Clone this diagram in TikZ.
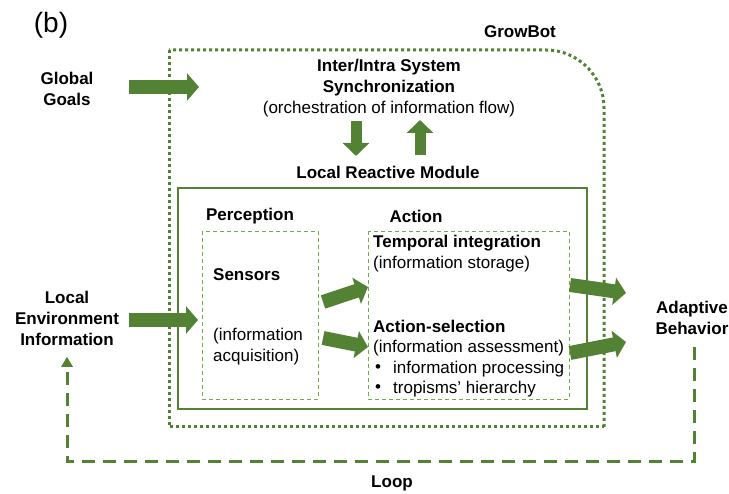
\documentclass[tikz,border=0pt]{standalone}
\usepackage{fontspec}
\setmainfont{Liberation Sans}
\usetikzlibrary{arrows.meta,calc}
\definecolor{dkgreen}{HTML}{548235}
\definecolor{ltgreen}{HTML}{70AD47}
\begin{document}
\begin{tikzpicture}[x=1pt,y=-1pt,
  txt/.style={inner sep=0pt, font=\fontsize{17}{21}\selectfont, align=center},
  btxt/.style={txt, font=\fontsize{17}{21}\selectfont\bfseries},
  blockarrow/.style={draw=dkgreen, line width=14pt, -{Triangle[width=27pt,length=12pt]}},
  vblockarrow/.style={draw=dkgreen, line width=11pt, -{Triangle[width=26pt,length=13pt]}},
  dotborder/.style={draw=dkgreen, line width=3pt, dash pattern=on 3pt off 3pt},
  dashbox/.style={draw=ltgreen, line width=0.9pt, dash pattern=on 4pt off 3pt},
  loopline/.style={draw=dkgreen, line width=3pt, dash pattern=on 13pt off 8pt},
]
\useasboundingbox (0,0) rectangle (729,494);

% outer GrowBot border
\draw[dotborder, rounded corners=58pt] (604,427) -- (604,50) -- (169,50);
\draw[dotborder] (169,50) -- (169,427) -- (604,427);

% inner module box and sub boxes
\draw[draw=dkgreen, line width=2pt] (178,188) rectangle (587,409);
\draw[dashbox] (202,231) rectangle (318,399);
\draw[dashbox] (368,231) rectangle (569,399);

% texts
\node[txt, font=\fontsize{28}{32}\selectfont] (lblb) at (51,25) {(b)};
\node[btxt] (growbot) at (520,32) {GrowBot};
\node[btxt] (goals) at (67,89) {Global\\Goals};
\node[txt] (sync) at (389,88) {\textbf{Inter/Intra System}\\\textbf{Synchronization}\\(orchestration of information flow)};
\node[btxt] (lrm) at (388,172) {Local Reactive Module};
\node[btxt] (perc) at (250,216) {Perception};
\node[btxt] (act) at (416,216) {Action};
\node[btxt, anchor=west] (sens) at (213,275) {Sensors};
\node[txt, anchor=west, align=left] (acq) at (213,347) {(information\\acquisition)};
\node[btxt, anchor=west] (temp) at (373,243) {Temporal integration};
\node[txt, anchor=west] (stor) at (373,264) {(information storage)};
\node[btxt, anchor=west] (asel) at (373,326) {Action-selection};
\node[txt, anchor=west] (asses) at (373,348) {(information assessment)};
\node[txt] (b1) at (378,369) {•};
\node[txt, anchor=west] (proc) at (393,369) {information processing};
\node[txt] (b2) at (378,389) {•};
\node[txt, anchor=west] (trop) at (393,389) {tropisms’ hierarchy};
\node[btxt] (env) at (67,318) {Local\\Environment\\Information};
\node[btxt] (adapt) at (692,318) {Adaptive\\Behavior};
\node[btxt] (loop) at (392,483) {Loop};

% arrow end points
\coordinate (g1) at (129,87);  \coordinate (g2) at (199,87);
\coordinate (e1) at (129,320); \coordinate (e2) at (198,320);
\coordinate (d1) at (356,121); \coordinate (d2) at (356,156);
\coordinate (u1) at (420,155); \coordinate (u2) at (420,120);
\coordinate (s1a) at (323,302); \coordinate (s1b) at (368,287);
\coordinate (s2a) at (323,338); \coordinate (s2b) at (368,347);
\coordinate (r1a) at (570,285); \coordinate (r1b) at (626,293);
\coordinate (r2a) at (570,353); \coordinate (r2b) at (626,342);
\coordinate (la) at (694,347); \coordinate (lb) at (694,462);
\coordinate (lc) at (67,462);  \coordinate (ld) at (67,357);

\draw[blockarrow] (g1) -- (g2);
\draw[blockarrow] (e1) -- (e2);
\draw[vblockarrow] (d1) -- (d2);
\draw[vblockarrow] (u1) -- (u2);
\draw[blockarrow] (s1a) -- (s1b);
\draw[blockarrow] (s2a) -- (s2b);
\draw[blockarrow] (r1a) -- (r1b);
\draw[blockarrow] (r2a) -- (r2b);

\draw[loopline] (la) -- (lb) -- (lc) -- ($(ld)+(0,8)$);
\fill[dkgreen] (ld) -- ++(-6,10) -- ++(12,0) -- cycle;
\end{tikzpicture}
\end{document}
